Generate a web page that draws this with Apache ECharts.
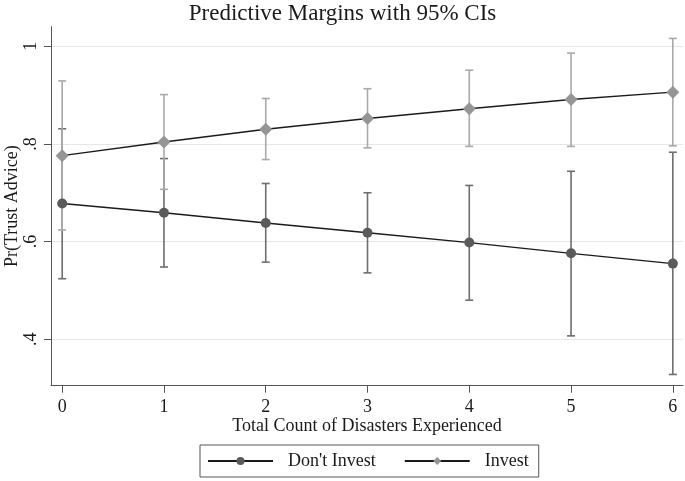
<!DOCTYPE html>
<html>
<head>
<meta charset="utf-8">
<script src="https://cdn.jsdelivr.net/npm/echarts@6/dist/echarts.min.js"></script>
<style>html,body{margin:0;padding:0;background:#fff}#c{width:685px;height:481px}</style>
</head>
<body>
<div id="c"></div>
<script>
const categories = [0, 1, 2, 3, 4, 5, 6];
const dontInvest = [0.678, 0.659, 0.638, 0.618, 0.598, 0.576, 0.555];
const dontInvestLo = [0.524, 0.548, 0.558, 0.536, 0.480, 0.407, 0.328];
const dontInvestHi = [0.831, 0.770, 0.719, 0.700, 0.715, 0.744, 0.783];
const invest = [0.776, 0.804, 0.830, 0.852, 0.872, 0.891, 0.906];
const investLo = [0.624, 0.707, 0.768, 0.792, 0.795, 0.795, 0.796];
const investHi = [0.929, 0.901, 0.893, 0.913, 0.951, 0.986, 1.016];
const yTicks = [0.4, 0.6, 0.8, 1];
const yTickLabels = ['.4', '.6', '.8', '1'];
const xTickLabels = ['0', '1', '2', '3', '4', '5', '6'];

const FONT = 'Liberation Serif';
const chart = echarts.init(document.getElementById('c'));

function ciSeries(name, lo, hi, color) {
  return {
    name: name,
    type: 'custom',
    z: 2,
    data: categories.map((x, i) => [x, lo[i], hi[i]]),
    encode: { x: 0, y: [1, 2] },
    renderItem: function (params, api) {
      const x = api.value(0);
      const p1 = api.coord([x, api.value(1)]);
      const p2 = api.coord([x, api.value(2)]);
      const w = 4;
      const st = { stroke: color, lineWidth: 1.6 };
      return {
        type: 'group',
        children: [
          { type: 'line', shape: { x1: p1[0], y1: p1[1], x2: p2[0], y2: p2[1] }, style: st },
          { type: 'line', shape: { x1: p1[0] - w, y1: p1[1], x2: p1[0] + w, y2: p1[1] }, style: st },
          { type: 'line', shape: { x1: p2[0] - w, y1: p2[1], x2: p2[0] + w, y2: p2[1] }, style: st }
        ]
      };
    }
  };
}

chart.setOption({
  animation: false,
  backgroundColor: '#fff',
  title: {
    text: 'Predictive Margins with 95% CIs',
    left: 'center',
    top: -3,
    textStyle: { fontFamily: FONT, fontSize: 23, fontWeight: 'normal', color: '#1a1a1a' }
  },
  legend: {
    data: ["Don't Invest", 'Invest'],
    left: 200,
    top: 445,
    orient: 'horizontal',
    padding: [7, 10, 7, 7],
    itemGap: 28,
    itemWidth: 65,
    itemHeight: 10,
    borderColor: '#555',
    borderWidth: 1,
    borderRadius: 0,
    textStyle: { fontFamily: FONT, fontSize: 18, color: '#1a1a1a', padding: [0, 0, 0, 10] }
  },
  grid: { left: 51, right: 2, top: 26.7, bottom: 95.3, containLabel: false, outerBoundsMode: 'none' },
  xAxis: {
    type: 'value',
    min: -0.11,
    max: 6.1,
    name: 'Total Count of Disasters Experienced',
    nameLocation: 'middle',
    nameGap: 32,
    nameMoveOverlap: false,
    nameTextStyle: { fontFamily: FONT, fontSize: 18, color: '#1a1a1a' },
    axisLine: { onZero: false, lineStyle: { color: '#555', width: 1 } },
    axisTick: { customValues: categories, length: 7, lineStyle: { color: '#555' } },
    axisLabel: {
      customValues: categories,
      formatter: v => xTickLabels[categories.indexOf(Math.round(v))],
      fontFamily: FONT, fontSize: 18, color: '#1a1a1a', margin: 13
    },
    splitLine: { show: false }
  },
  yAxis: {
    type: 'value',
    min: 0.305,
    max: 1.04,
    name: 'Pr(Trust Advice)',
    nameLocation: 'middle',
    nameGap: 30,
    nameMoveOverlap: false,
    nameTextStyle: { fontFamily: FONT, fontSize: 18, color: '#1a1a1a' },
    axisLine: { show: true, onZero: false, lineStyle: { color: '#555', width: 1 } },
    axisTick: { show: true, customValues: yTicks, length: 7, lineStyle: { color: '#555' } },
    axisLabel: {
      customValues: yTicks,
      rotate: 90,
      formatter: v => { const i = yTicks.findIndex(t => Math.abs(t - v) < 1e-6); return i >= 0 ? yTickLabels[i] : ''; },
      fontFamily: FONT, fontSize: 18, color: '#1a1a1a', margin: 11
    },
    splitLine: { show: true, lineStyle: { color: '#e6e6e6', width: 1 } }
  },
  series: [
    ciSeries('ciDont', dontInvestLo, dontInvestHi, '#6e6e6e'),
    ciSeries('ciInvest', investLo, investHi, '#a9a9a9'),
    {
      name: "Don't Invest",
      type: 'line',
      z: 3,
      data: categories.map((x, i) => [x, dontInvest[i]]),
      symbol: 'circle',
      symbolSize: 10,
      showAllSymbol: true,
      lineStyle: { color: '#1a1a1a', width: 1.4 },
      itemStyle: { color: '#5a5a5a' }
    },
    {
      name: 'Invest',
      type: 'line',
      z: 3,
      data: categories.map((x, i) => [x, invest[i]]),
      symbol: 'diamond',
      symbolSize: 13,
      showAllSymbol: true,
      lineStyle: { color: '#1a1a1a', width: 1.4 },
      itemStyle: { color: '#959595' }
    }
  ]
});
</script>
</body>
</html>
